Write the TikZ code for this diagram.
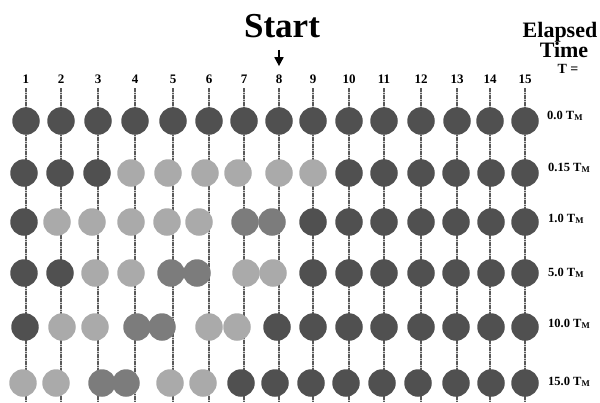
\documentclass[tikz,border=0pt]{standalone}
\usepackage{fontspec}
\setmainfont{Liberation Serif}
\usepackage{xcolor}
\definecolor{beaddark}{RGB}{80, 80, 80}
\definecolor{beadmid}{RGB}{124, 124, 124}
\definecolor{beadlight}{RGB}{170, 170, 170}
\definecolor{guidegray}{RGB}{90, 90, 90}
\usetikzlibrary{arrows.meta}

\begin{document}
\begin{tikzpicture}[x=1pt, y=-1pt, >=Stealth,
    bead/.style={circle, minimum size=27.5pt, inner sep=0pt},
    collabel/.style={font=\fontsize{13}{15}\selectfont\bfseries, inner sep=2pt},
    rowlabel/.style={font=\fontsize{12.5}{14}\selectfont\bfseries, anchor=base west, inner sep=0pt},
    guide/.style={guidegray, line width=1.1pt, dash pattern=on 4pt off 1pt on 1pt off 1pt,
        preaction={draw, solid, beadlight!60, line width=1.1pt}}]

\useasboundingbox (0,0) rectangle (600,402);

% === Titulos ===
\node[font=\fontsize{35}{40}\selectfont\bfseries, anchor=base] (start) at (282,37) {Start};
\node[font=\fontsize{22}{24}\selectfont\bfseries, anchor=base] (elapsed) at (560,37) {Elapsed};
\node[font=\fontsize{22}{24}\selectfont\bfseries, anchor=base] (time) at (564,57) {Time};
\node[font=\fontsize{14}{16}\selectfont\bfseries, anchor=base] (teq) at (568,73) {T =};

% === Columnas y guias ===
\foreach \x [count=\i] in {26,61,98,135,173,209,244,279,313,349,384,421,457,490,525} {
    \node[collabel, anchor=base] (c\i) at (\x,83) {\i};
    \coordinate (e\i) at (\x,402);
    \draw[guide, shorten <=3pt] (c\i) -- (e\i);
}

% Flecha de inicio
\draw[-{Triangle[width=9pt, length=9pt]}, line width=1.7pt, shorten <=9pt, shorten >=6pt]
    (c8.north |- start.south) -- (c8.north);

% === Cuentas ===
% T = 0.0
\foreach \x [count=\i] in {26,61,98,135,173,209,244,279,313,349,384,421,457,490,525}
    \node[bead, fill=beaddark] (a\i) at (\x,121) {};
% T = 0.15
\foreach \x/\c [count=\i] in {24/beaddark,60/beaddark,97/beaddark,131/beadlight,168/beadlight,
        205/beadlight,238/beadlight,279/beadlight,313/beadlight,349/beaddark,384/beaddark,
        421/beaddark,456/beaddark,491/beaddark,525/beaddark}
    \node[bead, fill=\c] (b\i) at (\x,173) {};
% T = 1.0
\foreach \x/\c [count=\i] in {24/beaddark,57/beadlight,92/beadlight,131/beadlight,167/beadlight,
        199/beadlight,245/beadmid,272/beadmid,313/beaddark,349/beaddark,384/beaddark,
        421/beaddark,456/beaddark,491/beaddark,525/beaddark}
    \node[bead, fill=\c] (d\i) at (\x,222) {};
% T = 5.0
\foreach \x/\c [count=\i] in {24/beaddark,60/beaddark,95/beadlight,131/beadlight,171/beadmid,
        197/beadmid,246/beadlight,273/beadlight,313/beaddark,349/beaddark,384/beaddark,
        421/beaddark,456/beaddark,491/beaddark,525/beaddark}
    \node[bead, fill=\c] (f\i) at (\x,273) {};
% T = 10.0
\foreach \x/\c [count=\i] in {25/beaddark,62/beadlight,95/beadlight,137/beadmid,162/beadmid,
        209/beadlight,237/beadlight,277/beaddark,313/beaddark,349/beaddark,384/beaddark,
        421/beaddark,456/beaddark,491/beaddark,525/beaddark}
    \node[bead, fill=\c] (g\i) at (\x,327) {};
% T = 15.0
\foreach \x/\c [count=\i] in {23/beadlight,56/beadlight,102/beadmid,126/beadmid,170/beadlight,
        203/beadlight,241/beaddark,275/beaddark,311/beaddark,346/beaddark,382/beaddark,
        418/beaddark,456/beaddark,491/beaddark,525/beaddark}
    \node[bead, fill=\c] (h\i) at (\x,383) {};

% === Tiempos ===
\node[rowlabel] (t1) at (547,119) {0.0 T\textsubscript{M}};
\node[rowlabel] (t2) at (548,171) {0.15 T\textsubscript{M}};
\node[rowlabel] (t3) at (548,222) {1.0 T\textsubscript{M}};
\node[rowlabel] (t4) at (548,276) {5.0 T\textsubscript{M}};
\node[rowlabel] (t5) at (548,327) {10.0 T\textsubscript{M}};
\node[rowlabel] (t6) at (548,385) {15.0 T\textsubscript{M}};

\end{tikzpicture}
\end{document}
